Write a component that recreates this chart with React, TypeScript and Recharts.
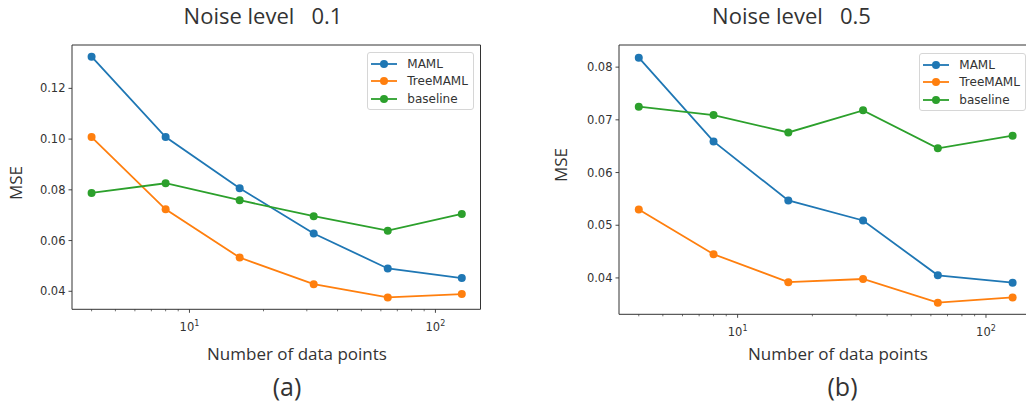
import { LineChart, Line, XAxis, YAxis, Legend, ReferenceArea } from "recharts";

// number of data points (x, log scale)
const nPoints = [4, 8, 16, 32, 64, 128];

// noise level 0.1
const maml01 = [0.1325, 0.1008, 0.0806, 0.0628, 0.049, 0.0452];
const tree01 = [0.1008, 0.0723, 0.0533, 0.0428, 0.0376, 0.0389];
const base01 = [0.0788, 0.0826, 0.0759, 0.0696, 0.0639, 0.0705];

// noise level 0.5
const maml05 = [0.0818, 0.0659, 0.0547, 0.0509, 0.0405, 0.0391];
const tree05 = [0.053, 0.0445, 0.0392, 0.0398, 0.0353, 0.0363];
const base05 = [0.0725, 0.0709, 0.0676, 0.0718, 0.0646, 0.067];

const yTicks01 = [0.04, 0.06, 0.08, 0.1, 0.12];
const yTicks05 = [0.04, 0.05, 0.06, 0.07, 0.08];
const xTicks = [4, 5, 6, 7, 8, 9, 10, 20, 30, 40, 50, 60, 70, 80, 90, 100];
const majorX = [10, 100];

const xDomain: [number, number] = [3.33, 152.5];

const series = [
  { key: "MAML", color: "#1f77b4" },
  { key: "TreeMAML", color: "#ff7f0e" },
  { key: "baseline", color: "#2ca02c" },
];

const makeRows = (maml: number[], tree: number[], base: number[]) =>
  nPoints.map((n, i) => ({ n, MAML: maml[i], TreeMAML: tree[i], baseline: base[i] }));

const rows01 = makeRows(maml01, tree01, base01);
const rows05 = makeRows(maml05, tree05, base05);

const ink = "#333";
const tickFont = "'DejaVu Sans', sans-serif";
const labelFont = "'Open Sans', sans-serif";

function LogTick(props: any) {
  const { x, y, payload } = props;
  const v = payload.value;
  const major = majorX.includes(v);
  return (
    <g>
      <line x1={x} x2={x} y1={y} y2={y + (major ? 3.5 : 2)} stroke={ink} strokeWidth={major ? 0.9 : 0.7} />
      {major && (
        <text x={x} y={y + 22} textAnchor="middle" fontSize={11.5} fill={ink} fontFamily={tickFont}>
          10<tspan dy={-5} fontSize={8}>{Math.round(Math.log10(v))}</tspan>
        </text>
      )}
    </g>
  );
}

function LegendBox(props: any) {
  const { payload } = props;
  return (
    <div
      style={{
        width: 107,
        height: 58,
        boxSizing: "border-box",
        border: "1px solid #d6d6d6",
        borderRadius: 3,
        background: "rgba(255,255,255,0.85)",
        paddingTop: 2,
      }}
    >
      {(payload || []).map((p: any) => (
        <div key={p.value} style={{ display: "flex", alignItems: "center", height: 17.7 }}>
          <svg width={36} height={12} style={{ marginLeft: 3 }}>
            <line x1={0} x2={26} y1={6} y2={6} stroke={p.color} strokeWidth={1.8} />
            <circle cx={13} cy={6} r={4} fill={p.color} />
          </svg>
          <span style={{ fontFamily: tickFont, fontSize: 12, color: ink, lineHeight: "12px" }}>{p.value}</span>
        </div>
      ))}
    </div>
  );
}

function Panel({ rows, yDomain, yTicks, margin, legendPos }: any) {
  return (
    <LineChart width={500} height={402} data={rows} margin={margin}>
      <ReferenceArea
        x1={xDomain[0]}
        x2={xDomain[1]}
        y1={yDomain[0]}
        y2={yDomain[1]}
        fill="none"
        stroke={ink}
        strokeWidth={1}
        ifOverflow="visible"
      />
      <XAxis
        dataKey="n"
        type="number"
        scale="log"
        domain={xDomain}
        allowDataOverflow
        ticks={xTicks}
        interval={0}
        tick={<LogTick />}
        tickLine={false}
        tickSize={0}
        tickMargin={0}
        axisLine={false}
        height={30}
      />
      <YAxis
        type="number"
        domain={yDomain}
        allowDataOverflow
        ticks={yTicks}
        interval={0}
        tickFormatter={(v: number) => v.toFixed(2)}
        width={60}
        tickSize={3.5}
        tickMargin={3}
        axisLine={false}
        tickLine={{ stroke: ink, strokeWidth: 0.9 }}
        tick={{ fill: ink, fontSize: 11.5, fontFamily: tickFont }}
      />
      <Legend
        layout="vertical"
        align="center"
        verticalAlign="middle"
        content={<LegendBox />}
        wrapperStyle={{ position: "absolute", top: legendPos.top, left: legendPos.left, width: 107, height: 58 }}
      />
      {series.map((s) => (
        <Line
          key={s.key}
          dataKey={s.key}
          name={s.key}
          stroke={s.color}
          strokeWidth={1.8}
          dot={{ r: 4, fill: s.color, stroke: s.color, strokeWidth: 0 }}
          activeDot={false}
          isAnimationActive={false}
        />
      ))}
    </LineChart>
  );
}

const textBase: any = {
  position: "absolute",
  transform: "translate(-50%, -50%)",
  whiteSpace: "pre",
  color: ink,
  fontFamily: labelFont,
};

function Label({ x, y, size, rotate, children }: any) {
  return (
    <div
      style={{
        ...textBase,
        left: x,
        top: y,
        fontSize: size,
        transform: `translate(-50%, -50%)${rotate ? " rotate(-90deg)" : ""}`,
      }}
    >
      {children}
    </div>
  );
}

export default function App() {
  return (
    <div
      style={{
        position: "absolute",
        left: 0,
        top: 0,
        width: 1026,
        height: 402,
        overflow: "hidden",
        background: "#fff",
      }}
    >
      <div style={{ position: "absolute", left: 0, top: 0 }}>
        <Panel
          rows={rows01}
          yDomain={[0.0329, 0.1371]}
          yTicks={yTicks01}
          margin={{ top: 45, right: 19.5, bottom: 62.7, left: 12 }}
          legendPos={{ top: 51.7, left: 367.3 }}
        />
      </div>
      <div style={{ position: "absolute", left: 550, top: 0 }}>
        <Panel
          rows={rows05}
          yDomain={[0.0331, 0.0842]}
          yTicks={yTicks05}
          margin={{ top: 45, right: 18.5, bottom: 57.7, left: 9 }}
          legendPos={{ top: 52.7, left: 369.3 }}
        />
      </div>

      <Label x={263} y={15} size={22}>{"Noise level   0.1"}</Label>
      <Label x={791.5} y={15} size={22}>{"Noise level   0.5"}</Label>
      <Label x={297} y={353} size={17}>Number of data points</Label>
      <Label x={838} y={353} size={17}>Number of data points</Label>
      <Label x={287} y={386} size={25}>(a)</Label>
      <Label x={842.5} y={386} size={25}>(b)</Label>
      <Label x={14.5} y={183} size={17} rotate>MSE</Label>
      <Label x={560} y={165} size={17} rotate>MSE</Label>
    </div>
  );
}
